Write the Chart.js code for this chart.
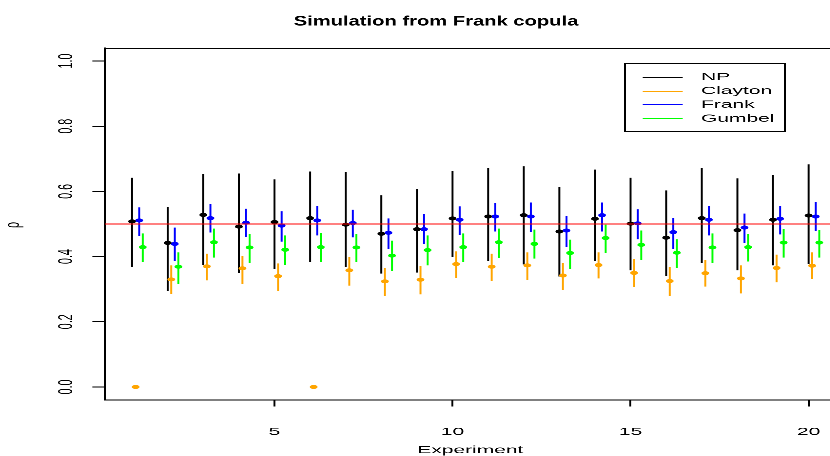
<!DOCTYPE html>
<html>
<head>
<meta charset="utf-8">
<script src="https://cdn.jsdelivr.net/npm/chart.js@4.4.1/dist/chart.umd.min.js"></script>
<style>
  html, body { margin: 0; padding: 0; overflow: hidden; background: #fff; }
  #c { display: block; }
</style>
</head>
<body>
<canvas id="c" width="440" height="456" style="width:858px;height:456px"></canvas>
<script>
// Dữ liệu: ước lượng rho và khoảng tin cậy cho 20 lần thí nghiệm
const experiments = [1, 2, 3, 4, 5, 6, 7, 8, 9, 10, 11, 12, 13, 14, 15, 16, 17, 18, 19, 20];
const seriesNames = ['NP', 'Clayton', 'Frank', 'Gumbel'];
const seriesColors = ['#000000', '#FFA500', '#0000FF', '#00FF00'];
const seriesOffsets = [0, 0.1, 0.2, 0.3];

const npEst = [0.508, 0.442, 0.528, 0.492, 0.506, 0.518, 0.498, 0.470, 0.484, 0.517, 0.523, 0.527, 0.477, 0.516, 0.501, 0.458, 0.518, 0.481, 0.513, 0.526];
const npLo  = [0.368, 0.294, 0.374, 0.350, 0.362, 0.384, 0.368, 0.348, 0.351, 0.399, 0.386, 0.376, 0.339, 0.386, 0.358, 0.340, 0.380, 0.358, 0.373, 0.378];
const npHi  = [0.642, 0.552, 0.654, 0.655, 0.637, 0.661, 0.659, 0.588, 0.607, 0.662, 0.671, 0.677, 0.613, 0.667, 0.642, 0.603, 0.671, 0.640, 0.650, 0.683];

const claytonEst = [0, 0.330, 0.370, 0.364, 0.340, 0, 0.358, 0.324, 0.329, 0.377, 0.369, 0.373, 0.342, 0.374, 0.350, 0.325, 0.349, 0.333, 0.365, 0.372];
const claytonLo  = [0, 0.285, 0.327, 0.316, 0.294, 0, 0.311, 0.279, 0.284, 0.335, 0.325, 0.329, 0.297, 0.333, 0.306, 0.279, 0.308, 0.287, 0.321, 0.331];
const claytonHi  = [0, 0.373, 0.409, 0.402, 0.379, 0, 0.398, 0.365, 0.371, 0.416, 0.409, 0.413, 0.380, 0.413, 0.392, 0.368, 0.389, 0.373, 0.406, 0.413];

const frankEst = [0.511, 0.439, 0.518, 0.504, 0.495, 0.511, 0.503, 0.473, 0.484, 0.513, 0.523, 0.523, 0.480, 0.527, 0.502, 0.475, 0.513, 0.489, 0.516, 0.523];
const frankLo  = [0.463, 0.386, 0.474, 0.460, 0.446, 0.465, 0.459, 0.423, 0.438, 0.466, 0.477, 0.475, 0.430, 0.477, 0.453, 0.424, 0.465, 0.441, 0.468, 0.478];
const frankHi  = [0.551, 0.489, 0.561, 0.547, 0.539, 0.555, 0.544, 0.517, 0.530, 0.554, 0.564, 0.566, 0.524, 0.566, 0.545, 0.519, 0.555, 0.532, 0.556, 0.567];

const gumbelEst = [0.429, 0.369, 0.444, 0.428, 0.421, 0.429, 0.428, 0.403, 0.420, 0.429, 0.444, 0.439, 0.411, 0.457, 0.436, 0.412, 0.428, 0.429, 0.443, 0.443];
const gumbelLo  = [0.383, 0.316, 0.397, 0.380, 0.375, 0.383, 0.383, 0.355, 0.373, 0.383, 0.395, 0.394, 0.362, 0.411, 0.389, 0.365, 0.381, 0.385, 0.397, 0.397];
const gumbelHi  = [0.471, 0.413, 0.486, 0.470, 0.465, 0.473, 0.470, 0.449, 0.465, 0.471, 0.486, 0.483, 0.452, 0.498, 0.480, 0.453, 0.471, 0.470, 0.485, 0.481];

const trueRho = 0.5;
const xTicks = [5, 10, 15, 20];
const yTicks = [0.0, 0.2, 0.4, 0.6, 0.8, 1.0];

const FONT = '"Liberation Sans", Arial, Helvetica, sans-serif';

// Gom dữ liệu theo series
const estimates = [npEst, claytonEst, frankEst, gumbelEst];
const lows = [npLo, claytonLo, frankLo, gumbelLo];
const highs = [npHi, claytonHi, frankHi, gumbelHi];

// Đoạn thẳng đứng cho khoảng tin cậy (null để ngắt nét)
function intervalData(offset, lo, hi) {
    const pts = [];
    experiments.forEach((e, i) => {
        pts.push({ x: e + offset, y: lo[i] }, { x: e + offset, y: hi[i] }, { x: e + offset, y: null });
    });
    return pts;
}

const datasets = [];
// Đường tham chiếu rho = 0.5 (vẽ trên cùng)
datasets.push({
    label: 'ref',
    data: [{ x: 0.24, y: trueRho }, { x: 20.76, y: trueRho }],
    showLine: true,
    borderColor: '#FF0000',
    borderWidth: 1,
    pointRadius: 0,
    order: 0
});
seriesNames.forEach((name, s) => {
    datasets.push({
        label: name + ' CI',
        data: intervalData(seriesOffsets[s], lows[s], highs[s]),
        showLine: true,
        spanGaps: false,
        borderColor: seriesColors[s],
        borderWidth: 1,
        pointRadius: 0,
        order: 2
    });
    datasets.push({
        label: name,
        data: experiments.map((e, i) => ({ x: e + seriesOffsets[s], y: estimates[s][i] })),
        showLine: false,
        pointRadius: 2,
        pointBorderWidth: 0,
        pointBackgroundColor: seriesColors[s],
        pointBorderColor: seriesColors[s],
        order: 1
    });
});

// Plugin vẽ khung, tiêu đề, nhãn trục và chú thích kiểu R
const decorPlugin = {
    id: 'decor',
    afterDraw(chart) {
        const ctx = chart.ctx;
        const area = chart.chartArea;
        const yScale = chart.scales.y;

        ctx.save();
        // khung (cạnh trên và phải)
        ctx.strokeStyle = '#000';
        ctx.lineWidth = 1;
        ctx.beginPath();
        ctx.moveTo(area.left, area.top + 0.5);
        ctx.lineTo(area.right, area.top + 0.5);
        ctx.lineTo(area.right, area.bottom);
        ctx.stroke();

        ctx.fillStyle = '#000';

        // nhãn trục y (xoay dọc)
        ctx.font = '10.75px ' + FONT;
        yTicks.forEach(v => {
            const y = yScale.getPixelForValue(v);
            ctx.save();
            ctx.translate(36.9, y);
            ctx.rotate(-Math.PI / 2);
            ctx.textAlign = 'center';
            ctx.textBaseline = 'alphabetic';
            ctx.fillText(v.toFixed(1), 0, 0);
            ctx.restore();
        });

        // tiêu đề trục y
        ctx.save();
        ctx.translate(9.7, 225);
        ctx.rotate(-Math.PI / 2);
        ctx.textAlign = 'center';
        ctx.textBaseline = 'alphabetic';
        ctx.font = '10.75px ' + FONT;
        ctx.fillText('ρ', 0, 0);
        ctx.restore();

        // tiêu đề trục x
        ctx.textAlign = 'center';
        ctx.textBaseline = 'alphabetic';
        ctx.font = '10.75px ' + FONT;
        ctx.fillText('Experiment', (area.left + area.right) / 2, 453.3);

        // tiêu đề chính
        ctx.save();
        ctx.font = 'bold 14px ' + FONT;
        const titleText = 'Simulation from Frank copula';
        const k = 146 / ctx.measureText(titleText).width;
        ctx.translate(223.6, 25.5);
        ctx.scale(k, 1);
        ctx.textAlign = 'center';
        ctx.fillText(titleText, 0, 0);
        ctx.restore();

        // chú thích
        ctx.lineWidth = 1;
        ctx.strokeStyle = '#000';
        ctx.strokeRect(320.5, 63.5, 82, 68);
        ctx.font = '10.75px ' + FONT;
        ctx.textAlign = 'left';
        ctx.textBaseline = 'middle';
        seriesNames.forEach((name, s) => {
            const y = 76.7 + s * 13.85;
            ctx.strokeStyle = seriesColors[s];
            ctx.lineWidth = 1.5;
            ctx.beginPath();
            ctx.moveTo(329.6, Math.round(y) + 0.5);
            ctx.lineTo(350.1, Math.round(y) + 0.5);
            ctx.stroke();
            ctx.fillStyle = '#000';
            ctx.fillText(name, 359.5, y + 0.5);
        });
        ctx.restore();
    }
};

new Chart(document.getElementById('c'), {
    type: 'scatter',
    data: { datasets },
    options: {
        responsive: false,
        devicePixelRatio: 4,
        animation: false,
        events: [],
        layout: { padding: { top: 48, right: 9.7, left: 0, bottom: 0 } },
        plugins: {
            legend: { display: false },
            tooltip: { enabled: false },
            title: { display: false }
        },
        scales: {
            x: {
                type: 'linear',
                min: 0.24,
                max: 20.76,
                afterBuildTicks: (scale) => { scale.ticks = xTicks.map(v => ({ value: v })); },
                afterFit: (scale) => { scale.height = 56; },
                ticks: {
                    color: '#000',
                    padding: 19,
                    maxRotation: 0,
                    font: { size: 10.75, family: FONT },
                    callback: (v) => String(v)
                },
                grid: { drawOnChartArea: false, drawTicks: true, tickLength: 6.5, tickColor: '#000' },
                border: { display: true, color: '#000', width: 1 }
            },
            y: {
                type: 'linear',
                min: -0.04,
                max: 1.04,
                afterBuildTicks: (scale) => { scale.ticks = yTicks.map(v => ({ value: v })); },
                afterFit: (scale) => { scale.width = 53.85; },
                ticks: { display: false },
                grid: { drawOnChartArea: false, drawTicks: true, tickLength: 6.5, tickColor: '#000' },
                border: { display: true, color: '#000', width: 1 }
            }
        }
    },
    plugins: [decorPlugin]
});
</script>
</body>
</html>
